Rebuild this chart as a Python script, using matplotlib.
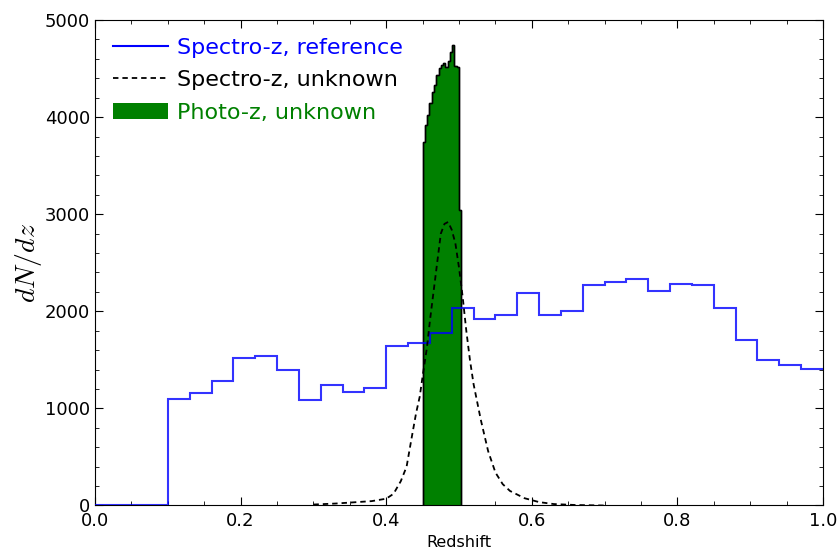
import numpy as np
import matplotlib
matplotlib.use("Agg")
import matplotlib.pyplot as plt
from matplotlib.patches import Patch
from matplotlib.lines import Line2D
from matplotlib.ticker import MultipleLocator

plt.rcParams["mathtext.fontset"] = "cm"
plt.rcParams["font.family"] = "DejaVu Sans"

# Spectro-z reference: empty below 0.1, then bins of 0.03 up to 1.0
ref_edges = np.concatenate([[0.0], np.round(np.arange(0.10, 1.0001, 0.03), 2)])
ref_counts = [0,
              1100, 1160, 1285, 1515, 1540, 1395, 1085, 1240, 1170, 1215,
              1645, 1675, 1775, 2035, 1920, 1960, 2185, 1960, 2005, 2275,
              2300, 2330, 2205, 2280, 2275, 2030, 1705, 1500, 1450, 1405]

# Photo-z unknown: narrow histogram between 0.45 and ~0.503
photo_edges = np.linspace(0.45, 0.503, 18)
photo_counts = [3745, 3920, 4025, 4145, 4260, 4330, 4435, 4505, 4540,
                4560, 4515, 4575, 4675, 4740, 4530, 4520, 3045]

# Spectro-z unknown: smooth dashed curve
unk_z = [0.30, 0.33, 0.36, 0.38, 0.40, 0.41, 0.42, 0.428, 0.435, 0.441,
         0.446, 0.45, 0.456, 0.46, 0.465, 0.47, 0.475, 0.48, 0.485, 0.49,
         0.495, 0.50, 0.505, 0.51, 0.515, 0.52, 0.53, 0.54, 0.55, 0.56,
         0.57, 0.59, 0.61, 0.63, 0.66, 0.70]
unk_n = [10, 20, 35, 45, 70, 120, 250, 400, 700, 950,
         1120, 1330, 1630, 1900, 2200, 2500, 2800, 2900, 2920, 2840,
         2700, 2450, 2150, 1800, 1500, 1250, 880, 560, 340, 220,
         150, 75, 35, 15, 5, 0]

fig = plt.figure(figsize=(8.38, 5.53), dpi=100)
ax = fig.add_axes([0.1134, 0.0859, 0.8687, 0.8779])

ax.stairs(photo_counts, photo_edges, fill=True, facecolor="green",
          edgecolor="black", lw=1.0, zorder=2)
ax.stairs(photo_counts, photo_edges, fill=False, color="black", lw=1.0, zorder=2)
ax.stairs(ref_counts, ref_edges, baseline=None, color="blue", lw=1.5,
          alpha=0.8, zorder=3)
ax.plot(unk_z, unk_n, color="black", lw=1.3, ls=(0, (3, 2.2)), zorder=4)

ax.set_xlim(0, 1.0)
ax.set_ylim(0, 5000)
ax.xaxis.set_major_locator(MultipleLocator(0.2))
ax.xaxis.set_minor_locator(MultipleLocator(0.05))
ax.yaxis.set_major_locator(MultipleLocator(1000))
ax.yaxis.set_minor_locator(MultipleLocator(200))
ax.tick_params(which="both", direction="in", top=True, right=True, labelsize=13)
ax.tick_params(which="major", length=5.5)
ax.tick_params(which="minor", length=2.8)
ax.tick_params(axis="x", pad=5)

ax.set_xlabel("Redshift", fontsize=11.5, labelpad=3)
ax.set_ylabel("$dN/dz$", fontsize=20, labelpad=1)

handles = [
    Line2D([], [], color="blue", lw=1.5),
    Line2D([], [], color="black", lw=1.3, ls=(0, (3, 2.2))),
    Patch(facecolor="green", edgecolor="none"),
]
labels = ["Spectro-z, reference", "Spectro-z, unknown", "Photo-z, unknown"]
leg = ax.legend(handles, labels, loc="upper left", frameon=False, fontsize=16,
                handlelength=2.5, handletextpad=0.4, labelspacing=0.56,
                borderaxespad=0.5, borderpad=0.3)
for txt, col in zip(leg.get_texts(), ["blue", "black", "green"]):
    txt.set_color(col)

fig.savefig("out.png", dpi=100)
